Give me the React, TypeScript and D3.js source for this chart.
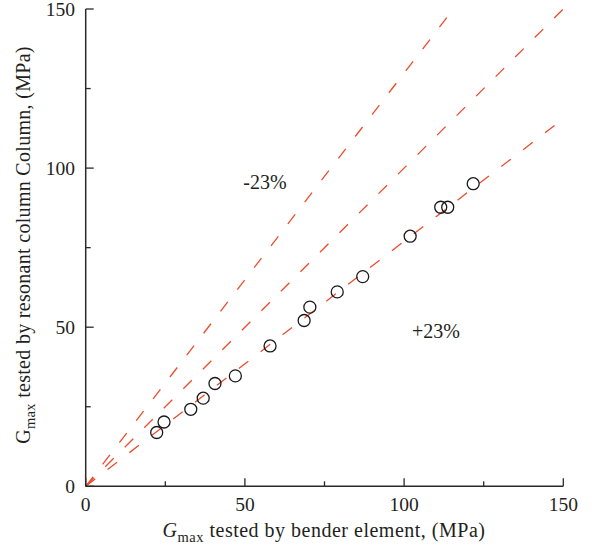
import React from "react";
import * as d3 from "d3";

const bender: number[] = [22.3, 24.6, 33.0, 36.9, 40.6, 47.0, 57.9, 68.6, 70.4, 79.0, 87.0, 101.9, 111.5, 113.7, 121.7];
const resonant: number[] = [16.9, 20.2, 24.2, 27.7, 32.3, 34.7, 44.1, 52.1, 56.3, 61.1, 65.9, 78.6, 87.7, 87.7, 95.1];
const majorTicks: number[] = [0, 50, 100, 150];
const minorTicks: number[] = [25, 75, 125];
const ratioLines: number[] = [1 / 0.77, 1, 0.77];
const ratioLabels: { text: string; x: number; y: number }[] = [
  { text: "-23%", x: 49.5, y: 93.5 },
  { text: "+23%", x: 102.5, y: 46.5 },
];

const W = 592;
const H = 549;
const FONT = "Liberation Serif, DejaVu Serif, serif";
const RED = "#ee4b2b";
const AX = "#2a2a2a";
const TXT = "#231f20";

export default function App() {
  const x = d3.scaleLinear().domain([0, 150]).range([85.7, 563.3]);
  const y = d3.scaleLinear().domain([0, 150]).range([486.3, 9]);
  const line = d3.line<[number, number]>().x((d) => x(d[0])).y((d) => y(d[1]));

  const linePts = (k: number): [number, number][] => {
    const xe = k > 1 ? 150 / k : 150;
    return [
      [0, 0],
      [xe, k * xe],
    ];
  };

  const ts = { fontFamily: FONT };

  return (
    <svg
      width={W}
      height={H}
      style={{ position: "absolute", left: 0, top: 0, background: "#fff", fontFamily: FONT }}
    >
      {ratioLines.map((k, i) => (
        <path
          key={i}
          d={line(linePts(k)) || ""}
          fill="none"
          stroke={RED}
          strokeWidth={1.3}
          strokeDasharray="12 15.6"
        />
      ))}
      {bender.map((b, i) => (
        <circle key={i} cx={x(b)} cy={y(resonant[i])} r={6} fill="none" stroke="#1a1a1a" strokeWidth={1.3} />
      ))}
      <line x1={x(0)} x2={x(150)} y1={y(0)} y2={y(0)} stroke={AX} strokeWidth={1.5} />
      <line x1={x(0)} x2={x(0)} y1={y(0)} y2={y(150)} stroke={AX} strokeWidth={1.5} />
      {majorTicks.map((t) => (
        <g key={"mx" + t}>
          <line x1={x(t)} x2={x(t)} y1={y(0)} y2={y(0) - 8} stroke={AX} strokeWidth={1.3} />
          <line x1={x(0)} x2={x(0) + 8} y1={y(t)} y2={y(t)} stroke={AX} strokeWidth={1.3} />
          <text style={ts} x={x(t)} y={511} textAnchor="middle" fontSize={19.5} fill={TXT}>
            {t}
          </text>
          <text style={ts} x={75} y={y(t) + 6.5} textAnchor="end" fontSize={19.5} fill={TXT}>
            {t}
          </text>
        </g>
      ))}
      {minorTicks.map((t) => (
        <g key={"mn" + t}>
          <line x1={x(t)} x2={x(t)} y1={y(0)} y2={y(0) - 5} stroke={AX} strokeWidth={1.3} />
          <line x1={x(0)} x2={x(0) + 5} y1={y(t)} y2={y(t)} stroke={AX} strokeWidth={1.3} />
        </g>
      ))}
      {ratioLabels.map((l, i) => (
        <text style={ts} key={i} x={x(l.x)} y={y(l.y)} fontSize={20} fill={TXT} textAnchor="start">
          {l.text}
        </text>
      ))}
      <text style={ts} x={324} y={537} textAnchor="middle" fontSize={20} letterSpacing={0.5} fill={TXT}>
        <tspan fontStyle="italic">G</tspan>
        <tspan fontSize={14.5} dy={5}>max</tspan>
        <tspan dy={-5}> tested by bender element, (MPa)</tspan>
      </text>
      <text
        style={ts}
        transform={`translate(30, 245) rotate(-90)`}
        textAnchor="middle"
        fontSize={20}
        letterSpacing={0.3}
        fill={TXT}
      >
        <tspan>G</tspan>
        <tspan fontSize={14.5} dy={5}>max</tspan>
        <tspan dy={-5}> tested by resonant column Column, (MPa)</tspan>
      </text>
    </svg>
  );
}
